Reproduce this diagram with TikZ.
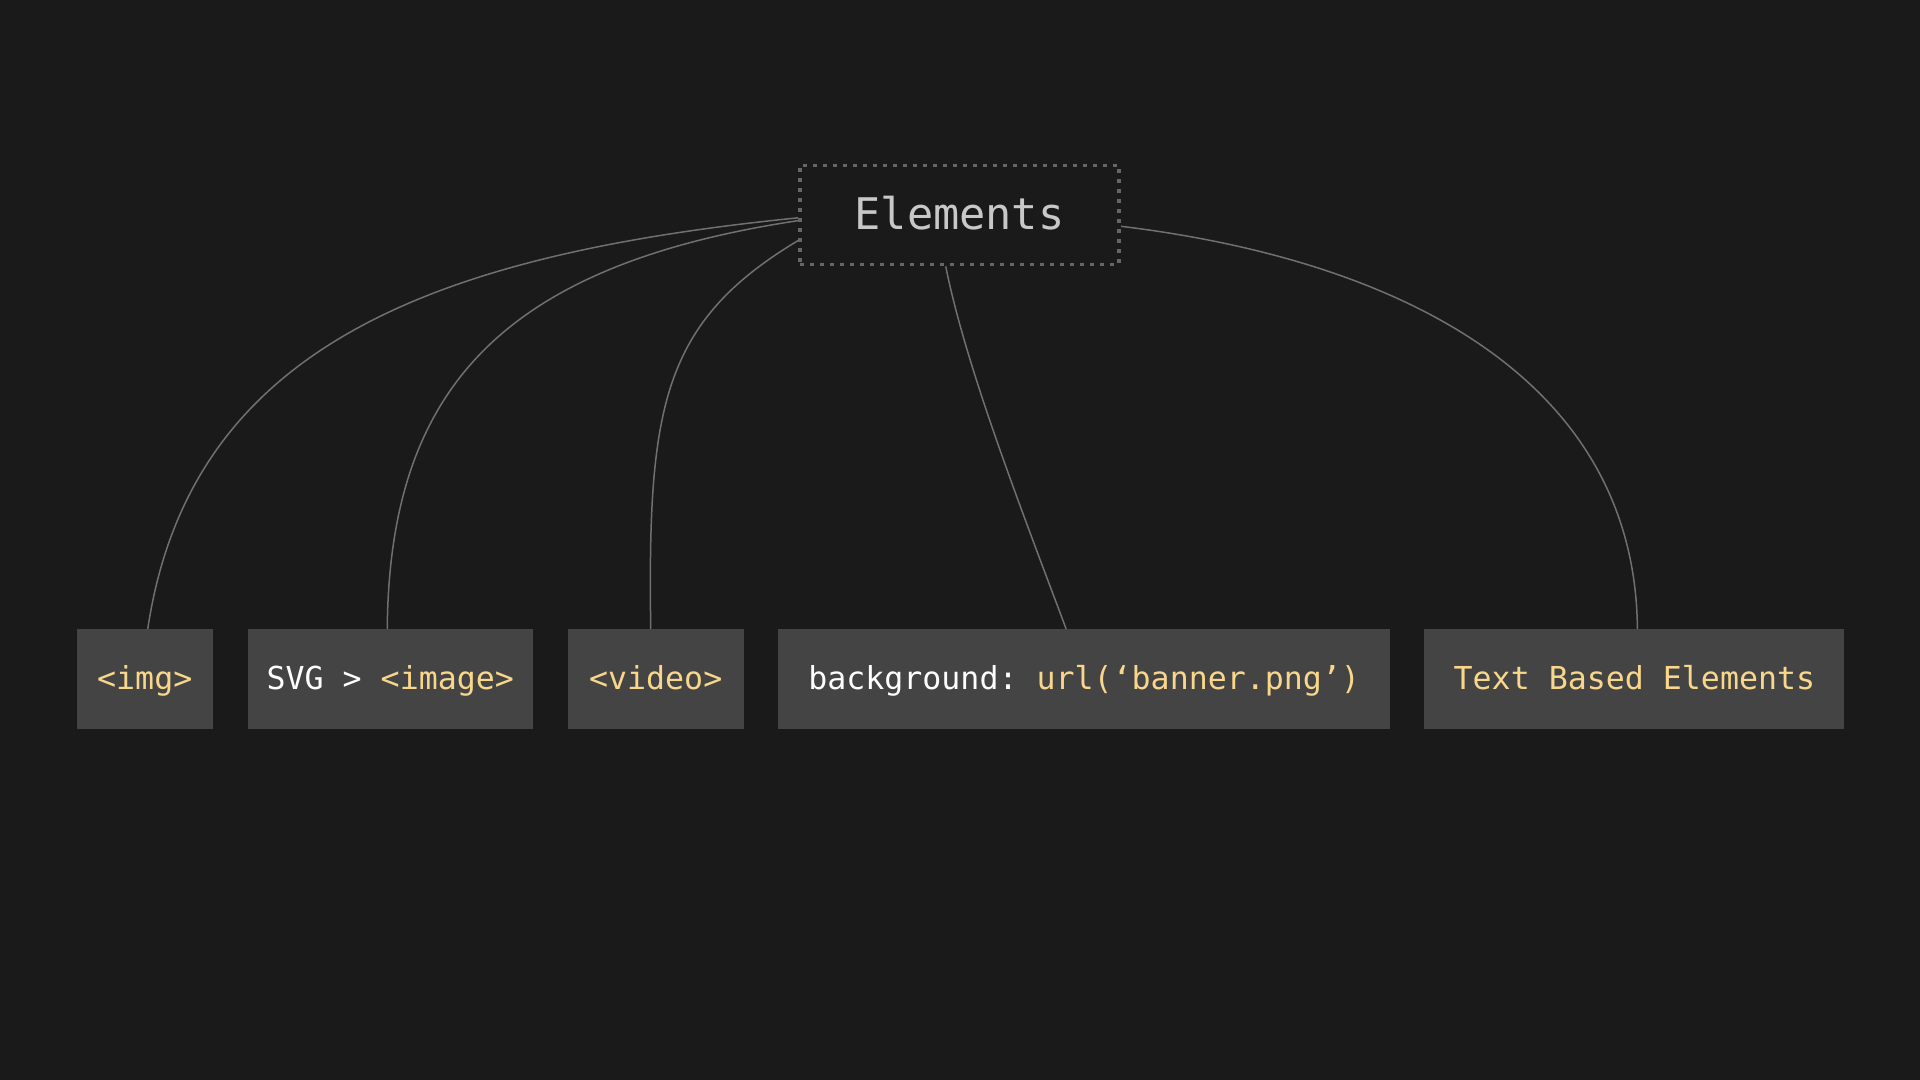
\documentclass[tikz,border=0pt]{standalone}
\usepackage{fontspec}
\usetikzlibrary{positioning}
\newfontfamily\codefont{DejaVu Sans Mono}
\definecolor{bgdark}{HTML}{1A1A1A}
\definecolor{boxgray}{HTML}{444444}
\definecolor{codeyellow}{HTML}{F8D68B}
\definecolor{linkgray}{HTML}{707070}
\definecolor{dotgray}{HTML}{666666}
\definecolor{rootgray}{HTML}{C8C8C8}
\frenchspacing

\begin{document}
\begin{tikzpicture}[x=0.5pt,y=-0.5pt,node distance=17.25pt,
                    main node/.style={rectangle,fill=boxgray,inner sep=0pt,outer sep=0pt,
                      minimum height=50pt,text height=12pt,text depth=2pt,text=codeyellow,
                      font=\codefont\fontsize{15.8}{19}\selectfont},
                    root node/.style={rectangle,draw=dotgray,line width=1.9pt,
                      dash pattern=on 2pt off 3pt,inner sep=0pt,
                      minimum width=159.5pt,minimum height=49.5pt,
                      text height=16.5pt,text depth=1.5pt,text=rootgray,
                      font=\codefont\fontsize{21.8}{26}\selectfont},
                    link/.style={draw=linkgray,line width=0.75pt}]

  \useasboundingbox[fill=bgdark] (0,0) rectangle (1920,1080);

  \node[root node] (1) at (959.5,215) {Elements};

  \node[main node, minimum width=68.25pt] (2) at (144.75,679) {<img>};
  \node[main node, minimum width=142.75pt] (3) [right=of 2] {\textcolor{white}{SVG >} <image>};
  \node[main node, minimum width=88.2pt] (4) [right=of 3] {<video>};
  \node[main node, minimum width=305.75pt] (5) [right=of 4] {\textcolor{white}{background:} url(‘banner.png’)};
  \node[main node, minimum width=210pt] (6) [right=of 5] {Text Based Elements};

  \draw[link]
    (1.181)   .. controls +(-370,37) and +(42,-280) .. ([xshift=1.5pt]2.north)
    (1.182.5) .. controls +(-298,45) and +(2,-238)  .. ([xshift=-1.5pt]3.north)
    (1.189.5) .. controls +(-137,82) and +(-3,-220) .. ([xshift=-2.5pt]4.north)
    (1.255)   .. controls +(20,100)  and +(-45,-120) .. ([xshift=-9pt]5.north)
    (1.356)   .. controls +(288,35)  and +(-2,-245) .. ([xshift=1.5pt]6.north);

\end{tikzpicture}
\end{document}
